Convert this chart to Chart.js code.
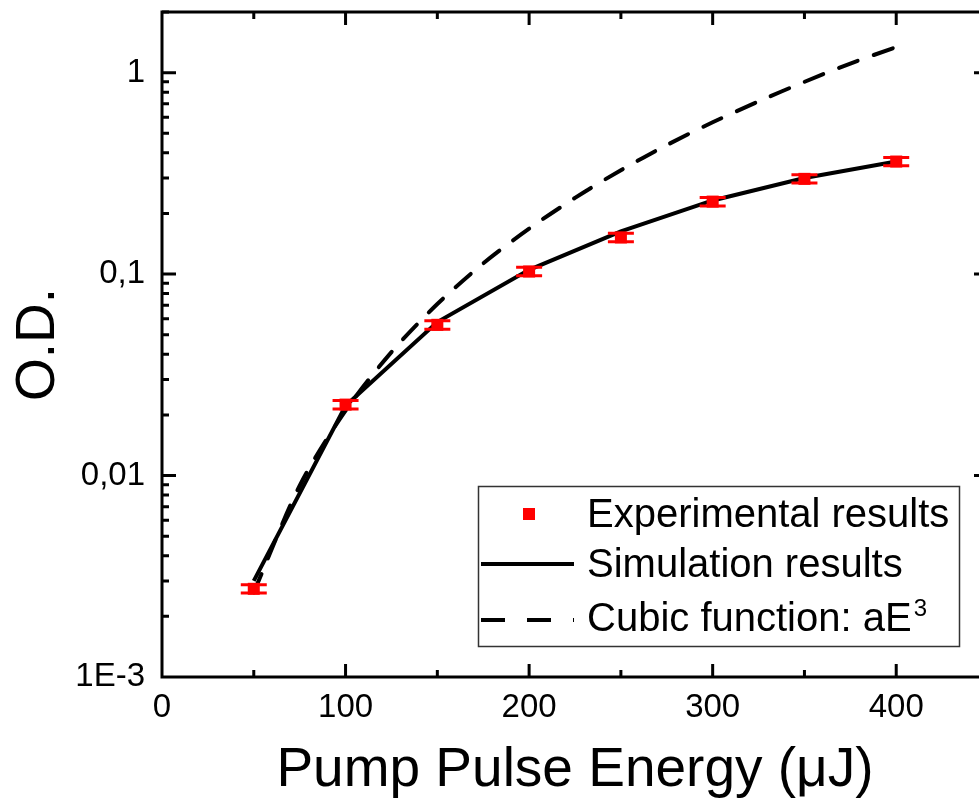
<!DOCTYPE html>
<html lang="en">
<head>
<meta charset="UTF-8">
<title>O.D. vs Pump Pulse Energy</title>
<script src="https://cdn.jsdelivr.net/npm/chart.js"></script>
<style>
  html, body { margin: 0; padding: 0; background: #fff; overflow: hidden; }
  #wrap { width: 1000px; height: 807px; }
</style>
</head>
<body>
<div id="wrap"><canvas id="odChart"></canvas></div>
<script>
// Experimental results (red squares with error bars)
const expEnergy = [50, 100, 150, 200, 250, 300, 350, 400];
const expOD = [0.00274, 0.0225, 0.0560, 0.103, 0.152, 0.229, 0.297, 0.362];
const expErr = [0.00013, 0.0011, 0.0027, 0.005, 0.0073, 0.011, 0.014, 0.017];

// Simulation results (solid line)
const simEnergy = [50, 100, 150, 200, 250, 300, 350, 400];
const simOD = [0.0030, 0.0222, 0.0578, 0.105, 0.163, 0.232, 0.300, 0.362];

// Cubic function aE^3 (dashed line)
const cubicEnergy = [50, 75, 100, 125, 150, 175, 200, 225, 250, 275, 300, 325, 350, 375, 400];
const cubicOD = [0.00263, 0.0089, 0.021, 0.041, 0.071, 0.113, 0.168, 0.239, 0.328, 0.437, 0.567, 0.72, 0.90, 1.11, 1.34];

// Axis ticks
const xTicks = [0, 100, 200, 300, 400];
const yTicks = [0.001, 0.01, 0.1, 1];
const yTickLabels = ['1E-3', '0,01', '0,1', '1'];

const FONT = "'Liberation Sans', Arial, sans-serif";

function toPoints(xs, ys) {
    return xs.map((x, i) => ({ x: x, y: ys[i] }));
}

// frame and inward tick marks on all four sides
const frameTicks = {
    id: 'frameTicks',
    afterDatasetsDraw(chart) {
        const { ctx, chartArea: a, scales: { x, y } } = chart;
        ctx.save();
        ctx.strokeStyle = '#000';
        ctx.lineWidth = 3;
        ctx.beginPath();
        for (let v = 50; v < x.max; v += 50) {
            const px = x.getPixelForValue(v);
            const len = v % 100 === 0 ? 13 : 7;
            ctx.moveTo(px, a.bottom); ctx.lineTo(px, a.bottom - len);
            ctx.moveTo(px, a.top); ctx.lineTo(px, a.top + len);
        }
        for (let e = -3; e <= 0; e++) {
            for (let m = 1; m <= 9; m++) {
                const v = m * Math.pow(10, e);
                if (v <= y.min * 1.0001 || v > y.max) continue;
                const py = y.getPixelForValue(v);
                const len = m === 1 ? 14 : 7;
                ctx.moveTo(a.left, py); ctx.lineTo(a.left + len, py);
                if (m === 1) { ctx.moveTo(a.right, py); ctx.lineTo(a.right - len, py); }
            }
        }
        ctx.stroke();
        ctx.strokeRect(a.left, a.top, a.width, a.height);
        ctx.restore();
    }
};

// error bars for the experimental points
const errorBars = {
    id: 'errorBars',
    afterDatasetsDraw(chart) {
        const { ctx, scales: { x, y } } = chart;
        ctx.save();
        ctx.strokeStyle = '#ff0000';
        ctx.lineWidth = 3;
        ctx.beginPath();
        expEnergy.forEach((e, i) => {
            const px = x.getPixelForValue(e);
            const hi = y.getPixelForValue(expOD[i] + expErr[i]);
            const lo = y.getPixelForValue(expOD[i] - expErr[i]);
            ctx.moveTo(px, hi); ctx.lineTo(px, lo);
            ctx.moveTo(px - 13, hi); ctx.lineTo(px + 13, hi);
            ctx.moveTo(px - 13, lo); ctx.lineTo(px + 13, lo);
        });
        ctx.stroke();
        ctx.restore();
    }
};

// legend box inside the plot
const boxLegend = {
    id: 'boxLegend',
    afterDraw(chart) {
        const ctx = chart.ctx;
        const ds = chart.data.datasets;
        ctx.save();
        ctx.strokeStyle = '#333';
        ctx.lineWidth = 1.5;
        ctx.strokeRect(478.5, 486.5, 481, 160);

        ctx.fillStyle = '#000';
        ctx.font = '40px ' + FONT;
        ctx.textBaseline = 'alphabetic';
        ctx.textAlign = 'left';
        const tx = 587;
        const rows = [527, 577, 631];

        // row 1: red square
        ctx.fillStyle = '#ff0000';
        ctx.fillRect(523, 508, 12, 12);
        ctx.fillStyle = '#000';
        ctx.fillText(ds[0].label, tx, rows[0]);

        // row 2: solid line
        ctx.strokeStyle = '#000';
        ctx.lineWidth = 4;
        ctx.beginPath();
        ctx.moveTo(481, 564); ctx.lineTo(574, 564);
        ctx.stroke();
        ctx.fillText(ds[1].label, tx, rows[1]);

        // row 3: dashed line, label with superscript
        ctx.setLineDash([24, 22]);
        ctx.beginPath();
        ctx.moveTo(481, 620); ctx.lineTo(574, 620);
        ctx.stroke();
        ctx.setLineDash([]);
        const parts = ds[2].label.split('³');
        ctx.fillText(parts[0], tx, rows[2]);
        const w = ctx.measureText(parts[0]).width;
        ctx.font = '24px ' + FONT;
        ctx.fillText('3', tx + w + 2, rows[2] - 15);
        ctx.restore();
    }
};

const ctx = document.getElementById('odChart').getContext('2d');
const odChart = new Chart(ctx, {
    type: 'line',
    data: {
        datasets: [
            {
                label: 'Experimental results',
                data: toPoints(expEnergy, expOD),
                showLine: false,
                pointStyle: 'rect',
                pointRadius: 8.5,
                pointBorderWidth: 0,
                pointBackgroundColor: '#ff0000',
                borderColor: '#ff0000'
            },
            {
                label: 'Simulation results',
                data: toPoints(simEnergy, simOD),
                borderColor: '#000',
                borderWidth: 4,
                pointRadius: 0,
                tension: 0
            },
            {
                label: 'Cubic function: aE³',
                data: toPoints(cubicEnergy, cubicOD),
                borderColor: '#000',
                borderWidth: 4,
                borderDash: [20, 17],
                borderCapStyle: 'round',
                pointRadius: 0,
                tension: 0.3
            }
        ]
    },
    options: {
        responsive: true,
        maintainAspectRatio: false,
        animation: false,
        layout: { padding: { top: 12, right: 12, left: 0, bottom: 0 } },
        plugins: {
            legend: { display: false },
            tooltip: { enabled: false }
        },
        scales: {
            x: {
                type: 'linear',
                min: 0,
                max: 450,
                afterBuildTicks: s => { s.ticks = xTicks.map(v => ({ value: v })); },
                afterFit: s => {
                    s.height = 130;
                    s.paddingLeft = 0; s.paddingRight = 0;
                },
                grid: { display: false, drawTicks: false },
                border: { display: false },
                ticks: {
                    padding: 11,
                    color: '#000',
                    maxRotation: 0,
                    autoSkip: false,
                    font: { family: FONT, size: 33 }
                },
                title: {
                    display: true,
                    text: 'Pump Pulse Energy (μJ)',
                    color: '#000',
                    font: { family: FONT, size: 55, lineHeight: 1 },
                    padding: { top: 0, bottom: 9 }
                }
            },
            y: {
                type: 'logarithmic',
                min: 0.001,
                max: 2,
                afterBuildTicks: s => { s.ticks = yTicks.map(v => ({ value: v })); },
                afterFit: s => {
                    s.width = 162;
                    s.paddingTop = 0; s.paddingBottom = 0;
                },
                grid: { display: false, drawTicks: false },
                border: { display: false },
                ticks: {
                    padding: 17,
                    color: '#000',
                    autoSkip: false,
                    font: { family: FONT, size: 33 },
                    callback: v => {
                        const i = yTicks.findIndex(t => Math.abs(t - v) / t < 1e-6);
                        return i >= 0 ? yTickLabels[i] : '';
                    }
                },
                title: {
                    display: true,
                    text: 'O.D.',
                    color: '#000',
                    font: { family: FONT, size: 55, lineHeight: 1 },
                    padding: { top: 11, bottom: 0 }
                }
            }
        }
    },
    plugins: [frameTicks, errorBars, boxLegend]
});
</script>
</body>
</html>
